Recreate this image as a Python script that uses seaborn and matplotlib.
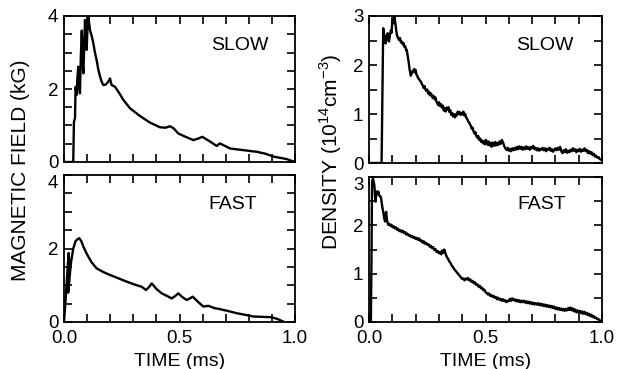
import numpy as np
import pandas as pd
import seaborn as sns
import matplotlib.pyplot as plt
from matplotlib.ticker import MultipleLocator

sns.set_style("ticks")
plt.rcParams['font.family'] = ['Liberation Sans', 'DejaVu Sans']
for k in ['text.color', 'axes.labelcolor', 'xtick.color', 'ytick.color', 'axes.edgecolor']:
    plt.rcParams[k] = 'black'

# magnetic field, slow (kG)
b_slow_t = [0.0, 0.04, 0.043, 0.0476, 0.05, 0.055, 0.058, 0.062, 0.066, 0.069, 0.073, 0.077,
            0.081, 0.084, 0.088, 0.091, 0.095, 0.098, 0.102, 0.105, 0.109, 0.113, 0.12, 0.127,
            0.134, 0.141, 0.148, 0.156, 0.163, 0.17, 0.18, 0.192, 0.199, 0.206, 0.221, 0.24,
            0.257, 0.286, 0.329, 0.372, 0.416, 0.44, 0.459, 0.475, 0.495, 0.53, 0.56, 0.58,
            0.599, 0.63, 0.661, 0.675, 0.719, 0.77, 0.834, 0.87, 0.906, 0.964, 1.0]
b_slow = [0.0, 0.0, 1.1, 1.2, 2.06, 1.84, 2.3, 2.61, 2.1, 1.88, 2.9, 3.6,
          2.7, 2.43, 3.3, 3.89, 3.2, 3.07, 3.7, 4.0, 3.8, 3.6, 3.45, 3.25,
          3.0, 2.8, 2.55, 2.34, 2.2, 2.11, 2.12, 2.2, 2.29, 2.11, 2.06, 1.88,
          1.7, 1.47, 1.26, 1.08, 0.95, 0.94, 0.98, 0.92, 0.78, 0.68, 0.6, 0.64,
          0.69, 0.57, 0.44, 0.51, 0.37, 0.33, 0.28, 0.23, 0.15, 0.08, 0.0]

# magnetic field, fast (kG)
b_fast_t = [0.0, 0.008, 0.016, 0.02, 0.022, 0.018, 0.03, 0.04, 0.05, 0.058, 0.066, 0.075,
            0.084, 0.095, 0.105, 0.12, 0.141, 0.17, 0.199, 0.235, 0.271, 0.305, 0.336, 0.355,
            0.368, 0.38, 0.4, 0.423, 0.452, 0.466, 0.48, 0.495, 0.512, 0.531, 0.545, 0.557,
            0.58, 0.603, 0.625, 0.65, 0.675, 0.71, 0.747, 0.78, 0.82, 0.86, 0.899, 0.925, 0.95]
b_fast = [0.0, 0.7, 1.5, 1.88, 1.7, 0.8, 1.6, 2.0, 2.2, 2.25, 2.28, 2.2,
          2.05, 1.9, 1.78, 1.62, 1.46, 1.36, 1.28, 1.19, 1.1, 1.02, 0.96, 0.87,
          0.95, 1.05, 0.9, 0.78, 0.69, 0.64, 0.7, 0.78, 0.68, 0.6, 0.64, 0.69,
          0.55, 0.42, 0.44, 0.38, 0.35, 0.3, 0.24, 0.2, 0.15, 0.14, 0.13, 0.08, 0.01]

# density, slow (1e14 cm^-3)
n_slow_t = [0.0, 0.054, 0.058, 0.061, 0.066, 0.071, 0.075, 0.08, 0.083, 0.086, 0.09, 0.094,
            0.097, 0.1, 0.105, 0.109, 0.112, 0.114, 0.117, 0.12, 0.124, 0.129, 0.133, 0.137,
            0.14, 0.145, 0.148, 0.152, 0.156, 0.159, 0.162, 0.165, 0.169, 0.174, 0.179, 0.183,
            0.187, 0.19, 0.194, 0.197, 0.2, 0.204, 0.208, 0.211, 0.215, 0.219, 0.223, 0.227,
            0.231, 0.235, 0.238, 0.242, 0.246, 0.25, 0.254, 0.258, 0.262, 0.266, 0.269, 0.273,
            0.277, 0.281, 0.285, 0.289, 0.293, 0.297, 0.301, 0.305, 0.309, 0.313, 0.317, 0.321,
            0.325, 0.329, 0.333, 0.337, 0.341, 0.345, 0.349, 0.353, 0.357, 0.361, 0.365, 0.369,
            0.373, 0.377, 0.381, 0.385, 0.389, 0.393, 0.397, 0.401, 0.405, 0.409, 0.413, 0.417,
            0.421, 0.425, 0.429, 0.433, 0.437, 0.441, 0.445, 0.449, 0.453, 0.457, 0.461, 0.465,
            0.469, 0.473, 0.477, 0.481, 0.485, 0.49, 0.494, 0.498, 0.502, 0.506, 0.51, 0.514,
            0.518, 0.522, 0.526, 0.53, 0.534, 0.538, 0.542, 0.546, 0.55, 0.555, 0.56, 0.565,
            0.57, 0.575, 0.58, 0.585, 0.59, 0.595, 0.6, 0.605, 0.61, 0.615, 0.62, 0.625,
            0.63, 0.635, 0.64, 0.645, 0.65, 0.655, 0.66, 0.665, 0.67, 0.675, 0.68, 0.685,
            0.69, 0.695, 0.7, 0.705, 0.71, 0.715, 0.72, 0.725, 0.73, 0.735, 0.74, 0.745,
            0.75, 0.755, 0.76, 0.765, 0.77, 0.775, 0.78, 0.785, 0.79, 0.795, 0.8, 0.805,
            0.81, 0.815, 0.82, 0.825, 0.83, 0.835, 0.84, 0.845, 0.85, 0.855, 0.86, 0.865,
            0.87, 0.875, 0.88, 0.885, 0.89, 0.895, 0.9, 0.905, 0.91, 0.915, 0.92, 0.925,
            0.93, 0.935, 0.94, 0.945, 0.95, 0.955, 0.96, 0.965, 0.97, 0.975, 0.98, 0.985,
            0.99, 0.995, 1.0]
n_slow = [0.0, 0.0, 1.5, 2.75, 2.55, 2.44, 2.6, 2.65, 2.5, 2.48, 2.62, 2.71,
          2.66, 2.92, 2.85, 2.99, 2.9, 2.82, 2.7, 2.61, 2.56, 2.51, 2.55, 2.46,
          2.48, 2.42, 2.45, 2.37, 2.38, 2.3, 2.31, 2.22, 2.1, 1.92, 1.78, 1.82,
          1.88, 1.86, 1.92, 1.85, 1.9, 1.8, 1.77, 1.73, 1.71, 1.68, 1.66, 1.61,
          1.58, 1.53, 1.57, 1.5, 1.47, 1.5, 1.42, 1.45, 1.38, 1.42, 1.39, 1.33,
          1.37, 1.3, 1.34, 1.26, 1.22, 1.18, 1.24, 1.16, 1.2, 1.13, 1.17, 1.07,
          1.12, 1.05, 1.13, 1.09, 1.14, 1.04, 1.08, 0.98, 1.02, 0.95, 0.99, 0.93,
          1.0, 0.97, 1.05, 1.0, 1.04, 0.98, 1.02, 0.99, 1.05, 0.97, 1.0, 0.93,
          0.9, 0.86, 0.83, 0.79, 0.76, 0.7, 0.72, 0.64, 0.6, 0.63, 0.55, 0.52,
          0.55, 0.47, 0.5, 0.43, 0.46, 0.4, 0.45, 0.38, 0.47, 0.43, 0.37, 0.44,
          0.36, 0.41, 0.33, 0.42, 0.38, 0.35, 0.43, 0.36, 0.41, 0.37, 0.44, 0.39,
          0.47, 0.42, 0.35, 0.3, 0.27, 0.31, 0.25, 0.29, 0.24, 0.3, 0.26, 0.31,
          0.27, 0.33, 0.28, 0.34, 0.29, 0.33, 0.27, 0.32, 0.28, 0.34, 0.29, 0.32,
          0.27, 0.33, 0.3, 0.35, 0.28, 0.31, 0.26, 0.3, 0.25, 0.29, 0.27, 0.31,
          0.26, 0.3, 0.24, 0.29, 0.27, 0.31, 0.25, 0.28, 0.23, 0.27, 0.3, 0.26,
          0.31, 0.27, 0.33, 0.25, 0.2, 0.26, 0.22, 0.28, 0.21, 0.25, 0.22, 0.27,
          0.24, 0.3, 0.25, 0.28, 0.22, 0.27, 0.24, 0.29, 0.23, 0.27, 0.25, 0.3,
          0.24, 0.27, 0.2, 0.24, 0.19, 0.22, 0.16, 0.19, 0.13, 0.15, 0.11, 0.12,
          0.08, 0.07, 0.05]

# density, fast (1e14 cm^-3)
n_fast_t = [0.0, 0.008, 0.011, 0.013, 0.017, 0.02, 0.023, 0.026, 0.028, 0.031, 0.033, 0.037,
            0.04, 0.043, 0.047, 0.051, 0.055, 0.058, 0.061, 0.065, 0.069, 0.072, 0.074, 0.076,
            0.08, 0.083, 0.088, 0.092, 0.097, 0.101, 0.106, 0.11, 0.115, 0.12, 0.125, 0.13,
            0.135, 0.14, 0.145, 0.15, 0.155, 0.16, 0.165, 0.17, 0.175, 0.18, 0.185, 0.19,
            0.195, 0.2, 0.205, 0.21, 0.215, 0.22, 0.225, 0.23, 0.235, 0.24, 0.245, 0.25,
            0.255, 0.26, 0.265, 0.27, 0.275, 0.28, 0.285, 0.29, 0.295, 0.3, 0.305, 0.31,
            0.315, 0.319, 0.323, 0.327, 0.331, 0.335, 0.34, 0.345, 0.35, 0.355, 0.36, 0.365,
            0.37, 0.375, 0.38, 0.385, 0.39, 0.395, 0.4, 0.405, 0.41, 0.415, 0.42, 0.425,
            0.43, 0.435, 0.44, 0.445, 0.45, 0.455, 0.46, 0.465, 0.47, 0.475, 0.48, 0.485,
            0.49, 0.495, 0.5, 0.505, 0.51, 0.515, 0.52, 0.525, 0.53, 0.535, 0.54, 0.545,
            0.55, 0.555, 0.56, 0.565, 0.57, 0.575, 0.58, 0.585, 0.59, 0.595, 0.6, 0.605,
            0.61, 0.615, 0.62, 0.625, 0.63, 0.635, 0.64, 0.645, 0.65, 0.655, 0.66, 0.665,
            0.67, 0.675, 0.68, 0.685, 0.69, 0.695, 0.7, 0.705, 0.71, 0.715, 0.72, 0.725,
            0.73, 0.735, 0.74, 0.745, 0.75, 0.755, 0.76, 0.765, 0.77, 0.775, 0.78, 0.785,
            0.79, 0.795, 0.8, 0.805, 0.81, 0.815, 0.82, 0.825, 0.83, 0.835, 0.84, 0.845,
            0.85, 0.855, 0.86, 0.865, 0.87, 0.875, 0.88, 0.885, 0.89, 0.895, 0.9, 0.905,
            0.91, 0.915, 0.92, 0.925, 0.93, 0.935, 0.94, 0.945, 0.95, 0.955, 0.96, 0.965,
            0.97, 0.975, 0.98, 0.985, 0.99, 0.995, 1.0]
n_fast = [0.0, 0.0, 1.5, 2.9, 2.97, 2.9, 2.83, 2.6, 2.49, 2.62, 2.7, 2.66,
          2.7, 2.63, 2.6, 2.59, 2.45, 2.35, 2.28, 2.15, 2.08, 2.25, 2.28, 2.15,
          2.05, 2.01, 2.03, 1.99, 2.01, 1.96, 1.98, 1.94, 1.96, 1.91, 1.93, 1.88,
          1.9, 1.86, 1.89, 1.84, 1.86, 1.81, 1.83, 1.79, 1.8, 1.76, 1.78, 1.74,
          1.76, 1.72, 1.74, 1.7, 1.73, 1.68, 1.69, 1.64, 1.67, 1.62, 1.64, 1.6,
          1.61, 1.56, 1.58, 1.53, 1.55, 1.49, 1.51, 1.45, 1.47, 1.42, 1.45, 1.4,
          1.48, 1.43, 1.5, 1.44, 1.38, 1.34, 1.3, 1.25, 1.22, 1.17, 1.14, 1.1,
          1.07, 1.04, 1.01, 0.98, 0.95, 0.92, 0.89, 0.9, 0.86, 0.9, 0.88, 0.91,
          0.86, 0.88, 0.83, 0.85, 0.8, 0.82, 0.77, 0.78, 0.73, 0.75, 0.7, 0.71,
          0.66, 0.67, 0.62, 0.6, 0.57, 0.59, 0.54, 0.56, 0.52, 0.54, 0.5, 0.52,
          0.47, 0.5, 0.46, 0.48, 0.44, 0.47, 0.43, 0.45, 0.41, 0.44, 0.43, 0.48,
          0.44, 0.49, 0.45, 0.47, 0.43, 0.46, 0.42, 0.45, 0.41, 0.44, 0.41, 0.44,
          0.4, 0.43, 0.39, 0.42, 0.38, 0.41, 0.37, 0.4, 0.36, 0.39, 0.36, 0.39,
          0.35, 0.38, 0.34, 0.37, 0.33, 0.36, 0.32, 0.35, 0.31, 0.34, 0.3, 0.33,
          0.29, 0.32, 0.27, 0.3, 0.26, 0.29, 0.25, 0.28, 0.24, 0.27, 0.23, 0.27,
          0.24, 0.29, 0.25, 0.3, 0.24, 0.28, 0.22, 0.26, 0.2, 0.24, 0.19, 0.23,
          0.18, 0.22, 0.17, 0.21, 0.16, 0.19, 0.14, 0.17, 0.12, 0.15, 0.1, 0.12,
          0.08, 0.09, 0.06, 0.06, 0.03, 0.03, 0.0]

panel_labels = ["SLOW", "FAST"]
x_ticks = [0.0, 0.5, 1.0]
x_ticklabels = ["0.0", "0.5", "1.0"]
b_yticks = [0, 2, 4]
n_yticks = [0, 1, 2, 3]

fig = plt.figure(figsize=(6.17, 3.69), dpi=100)
W, H = 617, 369


def box(left, top, right, bottom):
    return [left / W, 1 - bottom / H, (right - left) / W, (bottom - top) / H]


ax_bs = fig.add_axes(box(64, 16, 295, 162))
ax_bf = fig.add_axes(box(64, 175, 295, 322))
ax_ns = fig.add_axes(box(369, 16, 602, 163))
ax_nf = fig.add_axes(box(369, 177, 602, 322))

curves = [(ax_bs, b_slow_t, b_slow), (ax_bf, b_fast_t, b_fast),
          (ax_ns, n_slow_t, n_slow), (ax_nf, n_fast_t, n_fast)]
for ax, t, y in curves:
    sns.lineplot(x=t, y=y, ax=ax, color='black', lw=1.7, sort=False, estimator=None)

for ax, yt in [(ax_bs, b_yticks), (ax_bf, b_yticks), (ax_ns, n_yticks), (ax_nf, n_yticks)]:
    ax.set_xlim(0, 1)
    ax.set_ylim(0, yt[-1])
    ax.set_xticks(x_ticks)
    ax.set_yticks(yt)
    ax.xaxis.set_minor_locator(MultipleLocator(0.1))
    ax.yaxis.set_minor_locator(MultipleLocator(0.5))
    ax.tick_params(which='both', direction='in', top=True, right=True,
                   length=6, width=1.2, labelsize=13.5)
    ax.tick_params(axis='x', pad=6)
    ax.tick_params(axis='y', pad=4)
    for s in ax.spines.values():
        s.set_linewidth(1.3)
    ax.set_xlabel("")
    ax.set_ylabel("")

for ax in (ax_bs, ax_ns):
    ax.set_xticklabels([])
for ax in (ax_bf, ax_nf):
    ax.set_xticklabels(x_ticklabels)
    ax.set_xlabel("TIME (ms)", fontsize=14, labelpad=4)
    # top label of the lower panels sits just below its tick, as in the original
    ax.yaxis.get_major_ticks()[-1].label1.set_verticalalignment('top')

ax_bs.text(0.76, 0.80, panel_labels[0], transform=ax_bs.transAxes, fontsize=14, ha='center', va='center')
ax_bf.text(0.73, 0.80, panel_labels[1], transform=ax_bf.transAxes, fontsize=14, ha='center', va='center')
ax_ns.text(0.755, 0.80, panel_labels[0], transform=ax_ns.transAxes, fontsize=14, ha='center', va='center')
ax_nf.text(0.74, 0.81, panel_labels[1], transform=ax_nf.transAxes, fontsize=14, ha='center', va='center')

fig.text(21 / W, 1 - 170 / H, "MAGNETIC FIELD (kG)", rotation=90, fontsize=15,
         ha='center', va='center')
fig.text(331 / W, 1 - 152 / H, r"DENSITY (10$^{\mathregular{14}}$cm$^{\mathregular{-3}}$)",
         rotation=90, fontsize=15, ha='center', va='center')

fig.savefig("out.png", dpi=100)
